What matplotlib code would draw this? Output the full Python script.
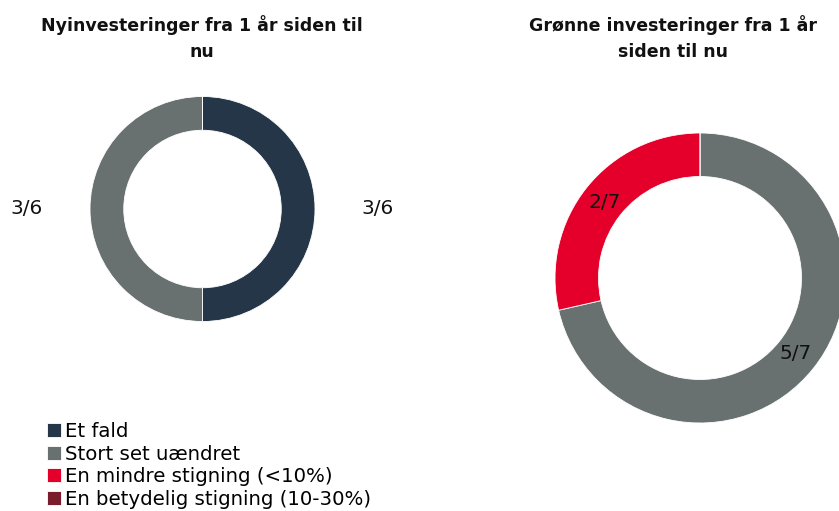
import matplotlib
matplotlib.use("Agg")
import matplotlib.pyplot as plt

W, H = 839, 511

categories = ["Et fald", "Stort set uændret",
              "En mindre stigning (<10%)", "En betydelig stigning (10-30%)"]
colors = ["#243647", "#687170", "#E4002B", "#7A1C2C"]

titles = ["Nyinvesteringer fra 1 år siden til\nnu",
          "Grønne investeringer fra 1 år\nsiden til nu"]
nyinvesteringer = [3, 3, 0, 0]
groenne = [0, 5, 2, 0]

plt.rcParams["font.family"] = ["DejaVu Sans"]


def px_box(cx, cy, r):
    # axes rectangle (figure fraction) for a circle of radius r px centred at (cx, cy) px
    return [(cx - r) / W, (H - cy - r) / H, 2 * r / W, 2 * r / H]


def fraction_label(values):
    n = sum(values)
    return lambda p: f"{round(p * n / 100)}/{n}" if p > 0.5 else ""


fig = plt.figure(figsize=(W / 100, H / 100), dpi=100)

# (values, centre x, centre y, radius, label distance, title centre x)
panels = [
    (nyinvesteringer, 202.5, 209, 112.5, 1.56, 202),
    (groenne, 700, 278, 145, 0.84, 673),
]

wedges = None
for (vals, cx, cy, r, dist, tx), title in zip(panels, titles):
    ax = fig.add_axes(px_box(cx, cy, r))
    w, _, autotexts = ax.pie(vals, colors=colors, startangle=90, counterclock=False,
                             radius=1.0, autopct=fraction_label(vals), pctdistance=dist,
                             wedgeprops=dict(width=0.30, edgecolor="white", linewidth=0.6),
                             textprops=dict(fontsize=14.5, color="#111111"))
    ax.set_xlim(-1, 1)
    ax.set_ylim(-1, 1)
    ax.set_aspect("auto")
    ax.axis("off")
    if wedges is None:
        wedges = w
    fig.text(tx / W, 1 - 38 / H, title, ha="center", va="center",
             fontsize=12.5, fontweight="bold", linespacing=1.6, color="#111111")

fig.legend(wedges, categories, loc="upper left", bbox_to_anchor=(47 / W, 1 - 422 / H),
           frameon=False, fontsize=14.2, handlelength=0.72, handleheight=0.72,
           handletextpad=0.2, labelspacing=0.18, borderpad=0, borderaxespad=0)

fig.savefig("out.png", dpi=100)
